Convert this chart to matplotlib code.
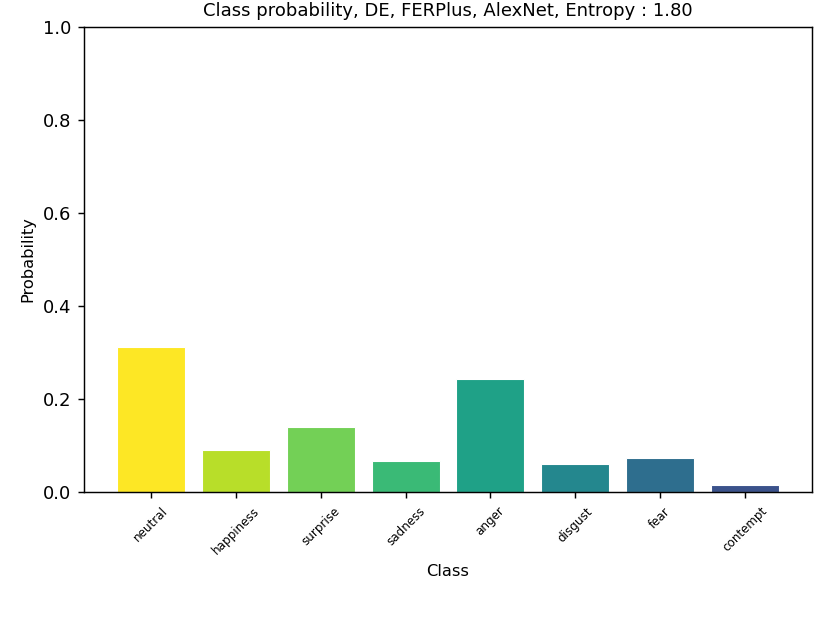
import matplotlib

matplotlib.use("Agg")
import matplotlib.pyplot as plt
import numpy as np

# class probabilities
classes = ["neutral", "happiness", "surprise", "sadness",
           "anger", "disgust", "fear", "contempt"]
probs = [0.312, 0.090, 0.140, 0.066, 0.244, 0.060, 0.074, 0.014]
entropy = 1.80


def plot_class_probability(output_path="out.png"):
    dpi = 130
    fig = plt.figure(figsize=(830 / dpi, 623 / dpi), dpi=dpi)
    ax = fig.add_axes([0.1012, 0.2103, 0.8771, 0.7464])

    # viridis sampled from yellow down towards blue, one colour per class
    colors = plt.cm.viridis(np.linspace(1.0, 0.25, len(classes)))
    x = np.arange(len(classes))
    ax.bar(x, probs, width=0.8, color=colors, edgecolor="white", linewidth=0.6)

    ax.set_xticks(x)
    ax.set_xticklabels(classes, rotation=45, fontsize=6.6)
    ax.tick_params(axis="y", labelsize=10)
    ax.set_ylim(0, 1.0)
    ax.set_yticks(np.arange(0, 1.01, 0.2))
    ax.set_xlabel("Class", fontsize=9)
    ax.set_ylabel("Probability", fontsize=9)
    ax.set_title(f"Class probability, DE, FERPlus, AlexNet, Entropy : {entropy:.2f}",
                 fontsize=10)

    fig.savefig(output_path, dpi=dpi)
    plt.close(fig)
    return output_path


plot_class_probability()
